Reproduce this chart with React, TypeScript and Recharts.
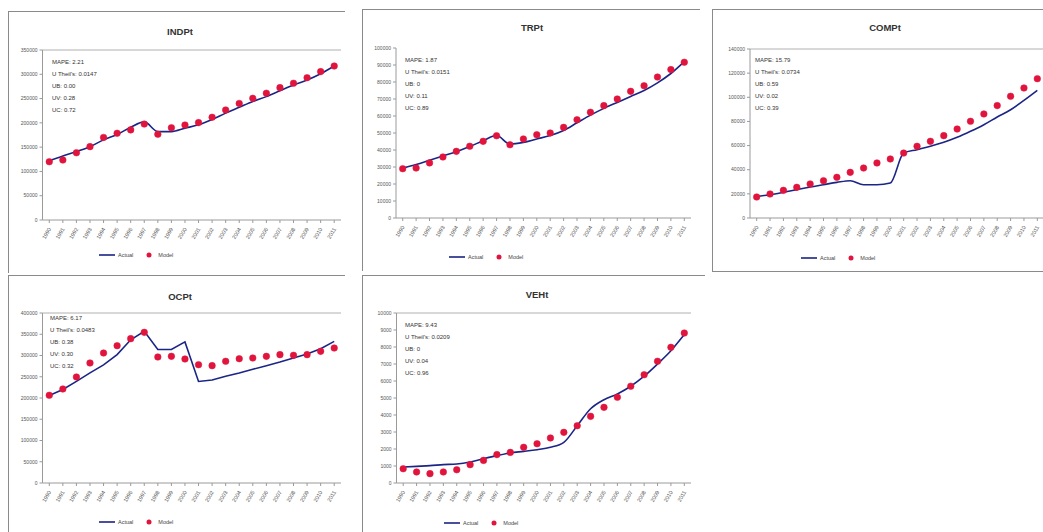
import { LineChart, Line, XAxis, YAxis, ReferenceLine } from "recharts";

// years on the horizontal axis (shared by every panel)
const years = [
  "1990", "1991", "1992", "1993", "1994", "1995", "1996", "1997", "1998", "1999", "2000",
  "2001", "2002", "2003", "2004", "2005", "2006", "2007", "2008", "2009", "2010", "2011",
];

// INDPt
const indpActual = [122000, 132000, 141000, 151000, 165000, 176000, 191000, 202000, 182000, 182000, 189000, 196000, 207000, 220000, 232000, 244000, 254000, 266000, 278000, 288000, 301000, 317000];
const indpModel = [120000, 123500, 138500, 151000, 170000, 178500, 185500, 197500, 176500, 190000, 195500, 200500, 211500, 226500, 240000, 250500, 261000, 272500, 281500, 293000, 305500, 317000];
const indpTicks = [0, 50000, 100000, 150000, 200000, 250000, 300000, 350000];
const indpStats = ["MAPE: 2.21", "U Theil's: 0.0147", "UB: 0.00", "UV: 0.28", "UC: 0.72"];

// TRPt
const trpActual = [29400, 31500, 34000, 36500, 39000, 42000, 45500, 48500, 43500, 44500, 46500, 48500, 51500, 56000, 60500, 64500, 68000, 71500, 75000, 79500, 85000, 92000];
const trpModel = [29000, 29400, 32400, 35900, 39200, 42200, 45100, 48400, 43100, 46500, 49000, 50000, 53300, 57800, 62200, 66100, 70000, 74500, 77800, 82900, 87300, 91600];
const trpTicks = [0, 10000, 20000, 30000, 40000, 50000, 60000, 70000, 80000, 90000, 100000];
const trpStats = ["MAPE: 1.87", "U Theil's: 0.0151", "UB: 0", "UV: 0.11", "UC: 0.89"];

// COMPt
const compActual = [17900, 19300, 21300, 23500, 25700, 27600, 29500, 30900, 27600, 27600, 29000, 53800, 56600, 59400, 62700, 66800, 71800, 77300, 83700, 89700, 97500, 105800];
const compModel = [17400, 19900, 22900, 25400, 28200, 30900, 33700, 37800, 41400, 45600, 48900, 53800, 59400, 63500, 68200, 73700, 80100, 86200, 93100, 100800, 107700, 115400];
const compTicks = [0, 20000, 40000, 60000, 80000, 100000, 120000, 140000];
const compStats = ["MAPE: 15.79", "U Theil's: 0.0734", "UB: 0.59", "UV: 0.02", "UC: 0.39"];

// OCPt
const ocpActual = [206000, 220000, 239000, 259000, 278000, 302000, 337000, 357000, 314000, 314000, 332000, 239000, 242400, 251000, 258800, 267500, 276100, 284700, 294100, 303500, 316100, 333300];
const ocpModel = [206300, 221200, 249400, 282400, 305900, 323100, 339600, 354500, 296500, 298000, 291800, 278400, 276100, 286300, 292500, 294100, 298000, 302000, 300400, 302000, 309800, 317600];
const ocpTicks = [0, 50000, 100000, 150000, 200000, 250000, 300000, 350000, 400000];
const ocpStats = ["MAPE: 6.17", "U Theil's: 0.0483", "UB: 0.38", "UV: 0.30", "UC: 0.32"];

// VEHt
const vehActual = [940, 980, 1020, 1080, 1120, 1240, 1430, 1610, 1770, 1860, 1960, 2100, 2390, 3370, 4370, 4900, 5240, 5690, 6280, 7000, 7780, 8730];
const vehModel = [840, 650, 550, 650, 780, 1080, 1330, 1670, 1800, 2100, 2310, 2650, 2980, 3370, 3920, 4450, 5040, 5690, 6370, 7160, 7980, 8820];
const vehTicks = [0, 1000, 2000, 3000, 4000, 5000, 6000, 7000, 8000, 9000, 10000];
const vehStats = ["MAPE: 9.43", "U Theil's: 0.0209", "UB: 0", "UV: 0.04", "UC: 0.96"];

const ACTUAL_COLOR = "#1b2586";
const MODEL_COLOR = "#e1143d";
const AXIS_COLOR = "#9a9a9a";
const FONT = "'Liberation Sans', Arial, sans-serif";

type Box = { left: number; top: number; width: number; height: number };
type Plot = { left: number; top: number; right: number; bottom: number };

interface PanelProps {
  title: string;
  actual: number[];
  model: number[];
  ticks: number[];
  stats: string[];
  box: Box;
  plot: Plot;
  titleX: number;
  titleY: number;
  statsX: number;
  statsY: number;
  legendX: number;
  legendY: number;
  lineType?: "monotone" | "linear";
  topLine?: boolean;
  borders: string;
}

const YearTick = (props: any) => {
  const { x, y, payload } = props;
  const ty = y + 4;
  return (
    <text
      x={x + 2}
      y={ty}
      transform={`rotate(-60 ${x + 2} ${ty})`}
      textAnchor="end"
      fontSize={5.5}
      fontFamily={FONT}
      fill="#555"
    >
      {payload.value}
    </text>
  );
};

const ModelPanel = (p: PanelProps) => {
  const data = years.map((year, i) => ({ year, actual: p.actual[i], model: p.model[i] }));
  const xAxisHeight = 30;
  const yAxisWidth = p.plot.left - p.box.left;
  const margin = {
    top: p.plot.top - p.box.top,
    right: p.box.left + p.box.width - p.plot.right,
    left: 0,
    bottom: p.box.top + p.box.height - p.plot.bottom - xAxisHeight,
  };
  const pad = (p.plot.right - p.plot.left) / (years.length * 2);
  const yMax = p.ticks[p.ticks.length - 1];
  const b = p.borders;
  const edge = "1px solid #8a8a8a";

  return (
    <div
      style={{
        position: "absolute",
        left: p.box.left,
        top: p.box.top,
        width: p.box.width,
        height: p.box.height,
        background: "#fff",
        boxSizing: "border-box",
      }}
    >
      <div
        style={{
          position: "absolute",
          inset: 0,
          borderTop: b.includes("t") ? edge : "none",
          borderLeft: b.includes("l") ? edge : "none",
          borderBottom: b.includes("b") ? edge : "none",
          borderRight: b.includes("r") ? edge : "none",
          pointerEvents: "none",
        }}
      />
      <LineChart width={p.box.width} height={p.box.height} data={data} margin={margin}>
        <XAxis
          dataKey="year"
          interval={0}
          height={xAxisHeight}
          tick={<YearTick />}
          tickLine={{ stroke: AXIS_COLOR }}
          tickSize={3}
          axisLine={{ stroke: AXIS_COLOR }}
          padding={{ left: pad, right: pad }}
        />
        <YAxis
          width={yAxisWidth}
          domain={[0, yMax]}
          ticks={p.ticks}
          interval={0}
          tick={{ fontSize: 5, fill: "#555", fontFamily: FONT }}
          tickLine={{ stroke: AXIS_COLOR }}
          tickSize={3}
          axisLine={{ stroke: AXIS_COLOR }}
        />
        {p.topLine !== false && <ReferenceLine y={yMax} stroke="#b0b0b0" />}
        <Line
          dataKey="actual"
          type={p.lineType ?? "monotone"}
          stroke={ACTUAL_COLOR}
          strokeWidth={1.6}
          dot={false}
          activeDot={false}
          isAnimationActive={false}
        />
        <Line
          dataKey="model"
          stroke="none"
          dot={{ r: 3.3, fill: MODEL_COLOR, stroke: MODEL_COLOR, strokeWidth: 0.5 }}
          activeDot={false}
          isAnimationActive={false}
        />
      </LineChart>
      <div
        style={{
          position: "absolute",
          left: p.titleX - p.box.left - 40,
          top: p.titleY - p.box.top - 6,
          width: 80,
          textAlign: "center",
          fontFamily: FONT,
          fontWeight: "bold",
          fontSize: 9.5,
          color: "#333",
        }}
      >
        {p.title}
      </div>
      <div
        style={{
          position: "absolute",
          left: p.statsX - p.box.left,
          top: p.statsY - p.box.top - 6,
          fontFamily: FONT,
          fontSize: 6,
          lineHeight: "12px",
          color: "#333",
          whiteSpace: "nowrap",
        }}
      >
        {p.stats.map((s) => (
          <div key={s}>{s}</div>
        ))}
      </div>
      <div
        style={{
          position: "absolute",
          left: p.legendX - p.box.left,
          top: p.legendY - p.box.top - 5,
          display: "flex",
          alignItems: "center",
          fontFamily: FONT,
          fontSize: 5.5,
          color: "#444",
          whiteSpace: "nowrap",
        }}
      >
        <svg width={16} height={10}>
          <line x1={0} y1={5} x2={16} y2={5} stroke={ACTUAL_COLOR} strokeWidth={1.6} />
        </svg>
        <span style={{ marginLeft: 3 }}>Actual</span>
        <svg width={12} height={10} style={{ marginLeft: 10 }}>
          <circle cx={6} cy={5} r={2.5} fill={MODEL_COLOR} />
        </svg>
        <span style={{ marginLeft: 3 }}>Model</span>
      </div>
    </div>
  );
};

export default function App() {
  return (
    <div
      style={{
        position: "fixed",
        left: 0,
        top: 0,
        width: 1043,
        height: 532,
        overflow: "hidden",
        background: "#fff",
      }}
    >
      <ModelPanel
        title="INDPt"
        actual={indpActual}
        model={indpModel}
        ticks={indpTicks}
        stats={indpStats}
        box={{ left: 8, top: 11, width: 337, height: 262 }}
        plot={{ left: 42.5, top: 50, right: 341, bottom: 220 }}
        titleX={180}
        titleY={32}
        statsX={52}
        statsY={62}
        legendX={99}
        legendY={255}
        borders="tl"
      />
      <ModelPanel
        title="TRPt"
        actual={trpActual}
        model={trpModel}
        ticks={trpTicks}
        stats={trpStats}
        box={{ left: 362, top: 9, width: 338, height: 262 }}
        plot={{ left: 396, top: 48, right: 691, bottom: 218 }}
        titleX={532}
        titleY={28}
        statsX={405}
        statsY={60}
        legendX={449}
        legendY={257}
        topLine={false}
        borders="tl"
      />
      <ModelPanel
        title="COMPt"
        actual={compActual}
        model={compModel}
        ticks={compTicks}
        stats={compStats}
        box={{ left: 712, top: 9, width: 335, height: 263 }}
        plot={{ left: 750, top: 49, right: 1044, bottom: 218 }}
        titleX={885}
        titleY={28}
        statsX={755}
        statsY={60}
        legendX={801}
        legendY={258}
        borders="tlb"
      />
      <ModelPanel
        title="OCPt"
        actual={ocpActual}
        model={ocpModel}
        ticks={ocpTicks}
        stats={ocpStats}
        box={{ left: 8, top: 275, width: 337, height: 262 }}
        plot={{ left: 42.5, top: 313, right: 341, bottom: 483 }}
        titleX={180}
        titleY={297}
        statsX={50}
        statsY={318}
        legendX={99}
        legendY={522}
        lineType="linear"
        borders="tl"
      />
      <ModelPanel
        title="VEHt"
        actual={vehActual}
        model={vehModel}
        ticks={vehTicks}
        stats={vehStats}
        box={{ left: 362, top: 275, width: 343, height: 262 }}
        plot={{ left: 396.5, top: 313, right: 691, bottom: 483 }}
        titleX={537}
        titleY={295}
        statsX={405}
        statsY={325}
        legendX={444}
        legendY={523}
        borders="tl"
      />
    </div>
  );
}
